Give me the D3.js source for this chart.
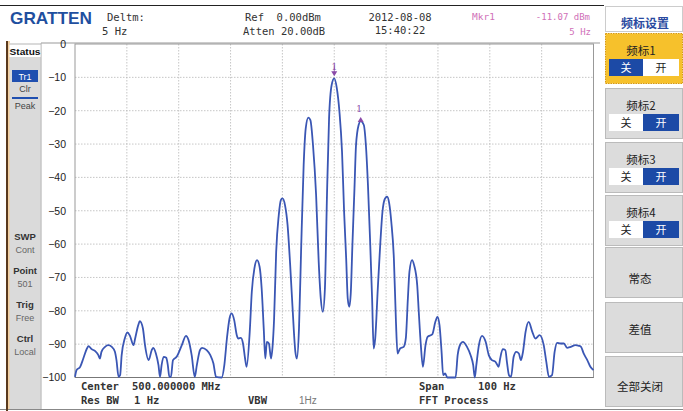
<!DOCTYPE html>
<html>
<head>
<meta charset="utf-8">
<script src="https://cdn.jsdelivr.net/npm/d3@7"></script>
<style>
  body { margin: 0; background: #fff; }
  svg { display: block; }
  .mono { font-family: "DejaVu Sans Mono", monospace; }
  .sans { font-family: "Liberation Sans", Arial, sans-serif; }
  .cjk { font-family: "Noto Sans CJK SC", sans-serif; }
</style>
</head>
<body>
<div id="chart"></div>
<script>
// trace: offset from center (Hz) and level (dBm)
const freqHz = [
  -50.0, -49.7, -49.0, -48.4, -47.7, -47.4, -46.8, -46.1, -45.5, -45.2, -44.9, -44.2, -43.6, -42.9, -42.3, -42.0,
  -41.6, -41.3, -41.0, -40.4, -39.9, -39.4, -38.7, -38.4, -37.8, -37.5, -36.9, -36.5, -35.8, -35.2, -34.9, -34.4,
  -33.9, -33.6, -33.3, -32.9, -32.4, -32.1, -31.8, -31.5, -31.1, -30.4, -29.4, -28.6, -28.1, -27.5, -26.9, -26.5,
  -25.9, -25.5, -24.6, -23.9, -23.3, -22.8, -21.7, -21.2, -20.7, -20.2, -19.8, -19.3, -18.8, -18.5, -18.0, -17.6,
  -17.2, -16.9, -16.3, -15.9, -15.4, -14.9, -14.4, -14.0, -13.6, -13.3, -13.0, -12.6, -12.2, -11.9, -11.6, -11.2,
  -10.7, -10.3, -10.0, -9.5, -9.0, -8.5, -8.0, -7.5, -7.2, -6.8, -6.4, -5.9, -5.5, -5.0, -4.6, -4.1,
  -3.5, -3.0, -2.6, -2.2, -1.8, -1.4, -1.0, -0.5, 0.0,
  0.5, 1.0, 1.5, 1.9, 2.3, 2.6, 2.9, 3.2, 3.5, 3.9, 4.2, 4.7, 5.1, 5.7, 6.1, 6.5,
  6.9, 7.3, 7.6, 7.9, 8.4, 8.9, 9.3, 9.8, 10.2, 10.6, 11.0, 11.5, 11.9, 12.2, 12.7, 13.4,
  13.8, 14.2, 14.5, 15.0, 15.4, 16.0, 16.3, 16.7, 17.1, 17.6, 18.0, 18.9, 19.5, 19.9, 20.3, 20.7,
  21.0, 21.4, 21.8, 23.4, 23.8, 24.3, 24.8, 25.6, 26.3, 26.8, 27.1, 27.4, 27.9, 28.5, 29.2, 29.8,
  30.4, 31.1, 31.7, 32.0, 32.5, 33.0, 33.3, 33.7, 34.1, 34.6, 35.1, 35.6, 36.0, 36.4, 36.9, 37.5,
  38.2, 38.8, 39.6, 40.4, 40.9, 41.4, 42.0, 42.5, 43.0, 43.6, 44.3, 44.9, 45.6, 46.5, 47.2, 47.6,
  48.1, 48.8, 49.4, 50.0
];
const levelDb = [
  -99.8, -97.8, -96.8, -94.3, -91.3, -90.6, -91.5, -92.1, -93.3, -94.3, -92.3, -90.8, -90.3, -90.8, -92.3, -94.8,
  -99.8, -99.3, -93.3, -88.3, -86.5, -87.5, -90.3, -88.3, -84.3, -83.1, -85.3, -90.3, -94.8, -91.8, -91.1, -92.8,
  -96.3, -99.8, -96.3, -93.8, -94.1, -96.3, -99.8, -99.8, -94.8, -93.8, -90.3, -87.5, -88.8, -93.3, -99.8, -96.3,
  -91.8, -91.1, -91.8, -93.3, -95.8, -99.8, -100, -96.3, -88.3, -82.3, -80.8, -82.8, -87.3, -88.3, -88.1, -89.8,
  -94.3, -96.8, -86.3, -74.3, -67.3, -64.8, -66.8, -73.3, -85.3, -94.3, -89.3, -89.8, -94.3, -90.8, -82.3, -62.3,
  -51.3, -46.8, -46.3, -48.3, -54.3, -66.3, -80.3, -92.3, -94.3, -85.3, -62.3, -36.3, -25.3, -22.1, -22.8, -30.3,
  -45.3, -65.3, -76.3, -80.3, -73.3, -45.3, -22.3, -12.3, -10.3,
  -13.3, -20.3, -32.3, -50.3, -64.3, -76.3, -78.8, -74.3, -60.3, -43.3, -30.3, -24.3, -23.1, -24.3, -30.3, -42.3,
  -58.3, -76.3, -91.3, -88.3, -73.3, -59.3, -50.3, -46.3, -45.8, -47.8, -53.3, -64.3, -83.3, -92.8, -91.3, -90.8,
  -88.3, -76.3, -68.3, -64.8, -66.3, -72.3, -80.3, -90.3, -96.8, -90.3, -87.8, -87.1, -83.3, -81.8, -84.3, -92.3,
  -99.3, -98.8, -100, -100, -93.3, -90.1, -89.3, -90.8, -93.3, -96.3, -100, -96.3, -90.3, -87.5, -89.3, -93.3,
  -94.8, -95.3, -96.8, -94.3, -91.5, -91.8, -95.3, -99.3, -99.8, -93.8, -92.3, -92.8, -94.8, -92.3, -86.3, -83.3,
  -86.3, -88.3, -87.3, -90.3, -95.3, -99.8, -99.3, -92.3, -89.6, -89.8, -89.8, -91.1, -90.8, -90.3, -90.5, -90.8,
  -92.8, -94.8, -96.8, -97.8
];
const yTicks = [0, -10, -20, -30, -40, -50, -60, -70, -80, -90, -100];
const xTicks = [-50, -40, -30, -20, -10, 0, 10, 20, 30, 40, 50];
const markerHz = [0, 5.1];
const statusItems = [["SWP", "Cont"], ["Point", "501"], ["Trig", "Free"], ["Ctrl", "Local"]];
const markerKeys = ["频标1", "频标2", "频标3", "频标4"];
const markerOn = [false, true, true, true];
const plainKeys = ["常态", "差值", "全部关闭"];

const W = 683, H = 411;
const svg = d3.select("#chart").append("svg").attr("width", W).attr("height", H);

const plot = {left: 75, right: 593.5, top: 44, bottom: 377.5};
const x = d3.scaleLinear().domain([-50, 50]).range([plot.left, plot.right]);
const y = d3.scaleLinear().domain([-100, 0]).range([plot.bottom, plot.top]);

// frame lines of the screen
svg.append("line").attr("x1", 0).attr("x2", 604).attr("y1", 5.5).attr("y2", 5.5)
    .attr("stroke", "#222").attr("stroke-width", 1.2);
svg.append("line").attr("x1", 0).attr("x2", W).attr("y1", 409.5).attr("y2", 409.5)
    .attr("stroke", "#888");
svg.append("line").attr("x1", 7).attr("x2", 7).attr("y1", 41).attr("y2", H)
    .attr("stroke", "#5a3a1e").attr("stroke-width", 2);
svg.append("line").attr("x1", 9).attr("x2", 9).attr("y1", 41).attr("y2", 409)
    .attr("stroke", "#e8a040").attr("stroke-width", 1);
svg.append("line").attr("x1", 41).attr("x2", 600).attr("y1", 43).attr("y2", 43)
    .attr("stroke", "#999");

// logo
svg.append("text").attr("class", "sans").attr("x", 10).attr("y", 24)
    .attr("font-size", 17).attr("font-weight", "bold").attr("fill", "#1f4f9f")
    .attr("textLength", 82).attr("lengthAdjust", "spacingAndGlyphs").text("GRATTEN");

// header
const hdr = svg.append("g").attr("class", "mono").attr("font-size", 10.5).attr("fill", "#333");
hdr.append("text").attr("x", 107).attr("y", 21).text("Deltm:");
hdr.append("text").attr("x", 102).attr("y", 35).text("5 Hz");
hdr.append("text").attr("x", 245).attr("y", 21).attr("xml:space", "preserve").text("Ref  0.00dBm");
hdr.append("text").attr("x", 243).attr("y", 35).text("Atten 20.00dB");
hdr.append("text").attr("x", 400).attr("y", 21).attr("text-anchor", "middle").text("2012-08-08");
hdr.append("text").attr("x", 400).attr("y", 34).attr("text-anchor", "middle").text("15:40:22");
const pink = "#d070b8";
hdr.append("text").attr("x", 472).attr("y", 19.5).attr("font-size", 9.5).attr("fill", pink).text("Mkr1");
hdr.append("text").attr("x", 590).attr("y", 20).attr("font-size", 9).attr("fill", pink)
    .attr("text-anchor", "end").text("-11.07 dBm");
hdr.append("text").attr("x", 591).attr("y", 35).attr("font-size", 9).attr("fill", pink)
    .attr("text-anchor", "end").text("5 Hz");

// status panel
svg.append("rect").attr("x", 9.5).attr("y", 43).attr("width", 31).attr("height", 366).attr("fill", "#dadada");
svg.append("line").attr("x1", 41).attr("x2", 41).attr("y1", 43).attr("y2", 409).attr("stroke", "#aaa");
svg.append("rect").attr("x", 9.5).attr("y", 45).attr("width", 31).attr("height", 12).attr("fill", "#fff");
const st = svg.append("g").attr("class", "sans").attr("text-anchor", "middle");
st.append("text").attr("x", 25).attr("y", 55).attr("font-size", 9.5).attr("font-weight", "bold")
    .attr("fill", "#111").attr("textLength", 31).attr("lengthAdjust", "spacingAndGlyphs").text("Status");
st.append("rect").attr("x", 12).attr("y", 70).attr("width", 26).attr("height", 12).attr("fill", "#1f4fb0");
st.append("text").attr("x", 25).attr("y", 80).attr("font-size", 9).attr("fill", "#fff").text("Tr1");
st.append("text").attr("x", 25).attr("y", 92).attr("font-size", 9).attr("fill", "#444").text("Clr");
st.append("rect").attr("x", 12).attr("y", 97).attr("width", 26).attr("height", 2).attr("fill", "#1f4fb0");
st.append("text").attr("x", 25).attr("y", 109).attr("font-size", 9).attr("fill", "#444").text("Peak");
statusItems.forEach((d, i) => {
  const by = 240 + i * 34;
  st.append("text").attr("x", 25).attr("y", by).attr("font-size", 9.5).attr("font-weight", "bold")
      .attr("fill", "#333").text(d[0]);
  st.append("text").attr("x", 25).attr("y", by + 12.5).attr("font-size", 9).attr("fill", "#666").text(d[1]);
});

// grid
const grid = svg.append("g").attr("stroke", "#b8b8b8").attr("stroke-dasharray", "1.5,1.5").attr("stroke-width", 0.8);
grid.selectAll(".hg").data(yTicks.slice(1, -1)).join("line")
    .attr("x1", plot.left).attr("x2", plot.right).attr("y1", d => y(d)).attr("y2", d => y(d));
grid.selectAll(".vg").data(xTicks.slice(1, -1)).join("line")
    .attr("y1", plot.top).attr("y2", plot.bottom).attr("x1", d => x(d)).attr("x2", d => x(d));

svg.append("rect").attr("x", plot.left).attr("y", plot.top)
    .attr("width", plot.right - plot.left).attr("height", plot.bottom - plot.top)
    .attr("fill", "none").attr("stroke", "#999").attr("stroke-width", 1);
svg.append("line").attr("x1", plot.left).attr("x2", plot.right).attr("y1", plot.bottom).attr("y2", plot.bottom)
    .attr("stroke", "#777").attr("stroke-width", 1.2);

// y axis labels
const yAxis = d3.axisLeft(y).tickValues(yTicks).tickSize(0).tickPadding(0);
const ya = svg.append("g").attr("transform", "translate(66,0)").call(yAxis);
ya.select(".domain").remove();
ya.selectAll("text").attr("font-family", "Liberation Sans, Arial, sans-serif")
    .attr("font-size", 10.5).attr("fill", "#222");

// trace
const pts = freqHz.map((f, i) => [f, levelDb[i]]);
const line = d3.line().x(d => x(d[0])).y(d => y(d[1])).curve(d3.curveMonotoneX);
svg.append("path").datum(pts).attr("d", line)
    .attr("fill", "none").attr("stroke", "#3a56b4").attr("stroke-width", 1.8)
    .attr("stroke-linejoin", "round");

// markers
const purple = "#8a4aa8";
const nearest = f => pts.reduce((a, b) => Math.abs(b[0] - f) < Math.abs(a[0] - f) ? b : a);
markerHz.forEach((f, i) => {
  const p = nearest(f);
  const mx = x(p[0]), my = y(p[1]);
  const g = svg.append("g").attr("fill", purple);
  if (i === 0) {
    g.append("path").attr("d", `M${mx - 3},${my - 7}L${mx + 3},${my - 7}L${mx},${my - 2}Z`);
    g.append("line").attr("x1", mx).attr("x2", mx).attr("y1", my - 12).attr("y2", my - 6)
        .attr("stroke", purple).attr("stroke-width", 0.8);
    g.append("text").attr("x", mx).attr("y", my - 8).attr("font-size", 9)
        .attr("font-family", "DejaVu Serif, serif").attr("text-anchor", "middle").text("1");
  } else {
    g.append("path").attr("d", `M${mx - 3},${my + 1}L${mx + 3},${my + 1}L${mx},${my - 4}Z`);
    g.append("text").attr("x", mx - 1.5).attr("y", my - 9).attr("font-size", 9)
        .attr("font-family", "DejaVu Serif, serif").attr("text-anchor", "middle").text("1");
  }
});

// bottom annotation
const bt = svg.append("g").attr("class", "mono").attr("font-size", 10.5).attr("font-weight", "bold").attr("fill", "#333");
bt.append("text").attr("x", 81).attr("y", 390).text("Center");
bt.append("text").attr("x", 132).attr("y", 390).text("500.000000 MHz");
bt.append("text").attr("x", 419).attr("y", 390).text("Span");
bt.append("text").attr("x", 478).attr("y", 390).text("100 Hz");
bt.append("text").attr("x", 81).attr("y", 404).text("Res BW");
bt.append("text").attr("x", 134).attr("y", 404).text("1 Hz");
bt.append("text").attr("x", 248).attr("y", 404).text("VBW");
bt.append("text").attr("x", 299).attr("y", 404).attr("font-weight", "normal").attr("fill", "#777")
    .attr("class", "sans").attr("font-size", 10).text("1Hz");
bt.append("text").attr("x", 419).attr("y", 404).text("FFT Process");

// soft key panel
const kx = 605, kw = 77;
const keys = svg.append("g").attr("class", "cjk");
keys.append("rect").attr("x", kx + 0.5).attr("y", 6.5).attr("width", kw).attr("height", 25)
    .attr("fill", "#fff").attr("stroke", "#ccc");
keys.append("text").attr("x", kx + 40).attr("y", 28).attr("text-anchor", "middle")
    .attr("font-size", 12).attr("font-weight", "bold").attr("fill", "#2a4aa0").text("频标设置");

const blue = "#1c4aa6";
markerKeys.forEach((k, i) => {
  const top = [33, 88, 142, 195][i];
  const active = i === 0;
  keys.append("rect").attr("x", kx + 0.5).attr("y", top + 0.5).attr("width", kw).attr("height", 50)
      .attr("fill", active ? "#f6c12c" : "#dcdcdc")
      .attr("stroke", active ? "#d89a10" : "#bbb")
      .attr("stroke-dasharray", active ? "1.5,1" : null);
  keys.append("text").attr("x", kx + 36).attr("y", top + 22).attr("text-anchor", "middle")
      .attr("font-size", 11.5).attr("fill", "#222").text(k);
  const on = markerOn[i];
  keys.append("rect").attr("x", kx + 4).attr("y", top + 26).attr("width", 34).attr("height", 17)
      .attr("fill", on ? "#fff" : blue);
  keys.append("rect").attr("x", kx + 38).attr("y", top + 26).attr("width", 36).attr("height", 17)
      .attr("fill", on ? blue : "#fff");
  keys.append("text").attr("x", kx + 21).attr("y", top + 39).attr("text-anchor", "middle")
      .attr("font-size", 11).attr("fill", on ? "#222" : "#fff").text("关");
  keys.append("text").attr("x", kx + 56).attr("y", top + 39).attr("text-anchor", "middle")
      .attr("font-size", 11).attr("fill", on ? "#fff" : "#222").text("开");
});

plainKeys.forEach((k, i) => {
  const top = [247, 302, 356][i];
  keys.append("rect").attr("x", kx + 0.5).attr("y", top + 0.5).attr("width", kw).attr("height", 50)
      .attr("fill", "#dcdcdc").attr("stroke", "#bbb");
  keys.append("text").attr("x", kx + 35).attr("y", top + [36, 32, 35][i]).attr("text-anchor", "middle")
      .attr("font-size", 11.5).attr("fill", "#222").text(k);
});
</script>
</body>
</html>
